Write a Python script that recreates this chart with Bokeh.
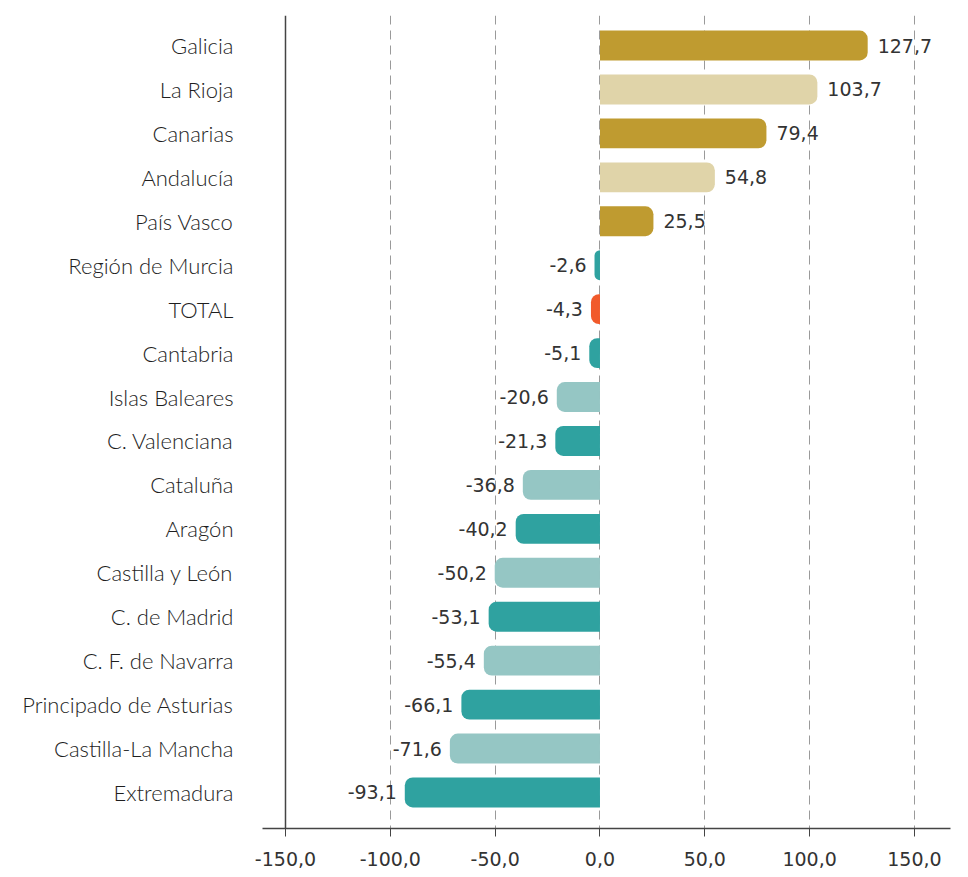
from bokeh.plotting import figure
from bokeh.models import ColumnDataSource, Range1d, FixedTicker, Span
from bokeh.embed import file_html
from bokeh.resources import INLINE
from bokeh.core.properties import value

regions = ["Galicia", "La Rioja", "Canarias", "Andalucía", "País Vasco",
           "Región de Murcia", "TOTAL", "Cantabria", "Islas Baleares",
           "C. Valenciana", "Cataluña", "Aragón", "Castilla y León",
           "C. de Madrid", "C. F. de Navarra", "Principado de Asturias",
           "Castilla-La Mancha", "Extremadura"]
values = [127.7, 103.7, 79.4, 54.8, 25.5, -2.6, -4.3, -5.1, -20.6, -21.3,
          -36.8, -40.2, -50.2, -53.1, -55.4, -66.1, -71.6, -93.1]
GOLD, TAN, TEAL, LTEAL, ORANGE = "#BF9B30", "#E0D4A9", "#2FA2A0", "#95C6C4", "#F15A2B"
colors = [GOLD, TAN, GOLD, TAN, GOLD, TEAL, ORANGE, TEAL, LTEAL, TEAL,
          LTEAL, TEAL, LTEAL, TEAL, LTEAL, TEAL, LTEAL, TEAL]
tick_values = [-150, -100, -50, 0, 50, 100, 150]
tick_labels = ["-150,0", "-100,0", "-50,0", "0,0", "50,0", "100,0", "150,0"]

pos = list(range(len(regions)))
labels = [f"{v:.1f}".replace(".", ",") for v in values]

def subset(cond):
    idx = [i for i, v in enumerate(values) if cond(v)]
    return ColumnDataSource(dict(
        y=[pos[i] for i in idx],
        v=[values[i] for i in idx],
        c=[colors[i] for i in idx],
        t=[labels[i] for i in idx],
    ))

src_pos = subset(lambda v: v >= 0)
src_neg = subset(lambda v: v < 0)

p = figure(width=960, height=875, output_backend="svg", toolbar_location=None,
           x_range=Range1d(-160.97, 167.2), y_range=Range1d(17.82, -0.683),
           min_border_left=262, min_border_right=10, min_border_top=15,
           min_border_bottom=47)
p.outline_line_color = None
p.background_fill_color = "white"

# grid
p.xgrid.ticker = FixedTicker(ticks=tick_values[1:])
p.xgrid.grid_line_color = "#9a9a9a"
p.xgrid.grid_line_dash = "9 6"
p.xgrid.grid_line_width = 1
p.ygrid.grid_line_color = None

# bars
p.hbar(y="y", left=0, right="v", height=0.68, source=src_pos,
       fill_color="c", line_color=None, border_radius=(0, 8, 8, 0))
p.hbar(y="y", left="v", right=0, height=0.68, source=src_neg,
       fill_color="c", line_color=None, border_radius=(8, 0, 0, 8))

# value labels
p.text(x="v", y="y", text="t", source=src_pos, x_offset=10,
       text_align="left", text_baseline="middle",
       text_font=value("DejaVu Sans"), text_font_size="19px", text_color="#333333")
p.text(x="v", y="y", text="t", source=src_neg, x_offset=-8,
       text_align="right", text_baseline="middle",
       text_font=value("DejaVu Sans"), text_font_size="19px", text_color="#333333")

# vertical axis line at -150
p.add_layout(Span(location=-150, dimension="height", line_color="#444444",
                  line_width=1.5))

# x axis
xa = p.xaxis[0]
xa.ticker = FixedTicker(ticks=tick_values)
xa.major_label_overrides = {t: l for t, l in zip(tick_values, tick_labels)}
xa.axis_line_color = "#444444"
xa.axis_line_width = 1.5
xa.major_tick_line_color = "#444444"
xa.major_tick_out = 8
xa.major_tick_in = 0
xa.minor_tick_line_color = None
xa.major_label_standoff = 15
xa.major_label_text_font = "DejaVu Sans"
xa.major_label_text_font_size = "19px"
xa.major_label_text_color = "#333333"

# y axis
ya = p.yaxis[0]
ya.ticker = FixedTicker(ticks=pos)
ya.major_label_overrides = {i: r for i, r in zip(pos, regions)}
ya.axis_line_color = None
ya.major_tick_line_color = None
ya.minor_tick_line_color = None
ya.major_tick_out = 0
ya.major_tick_in = 0
ya.major_label_standoff = 29
ya.major_label_text_font = "Lato Light"
ya.major_label_text_font_size = "22px"
ya.major_label_text_color = "#1e1e1e"

open("out.html", "w").write(file_html(p, INLINE))
